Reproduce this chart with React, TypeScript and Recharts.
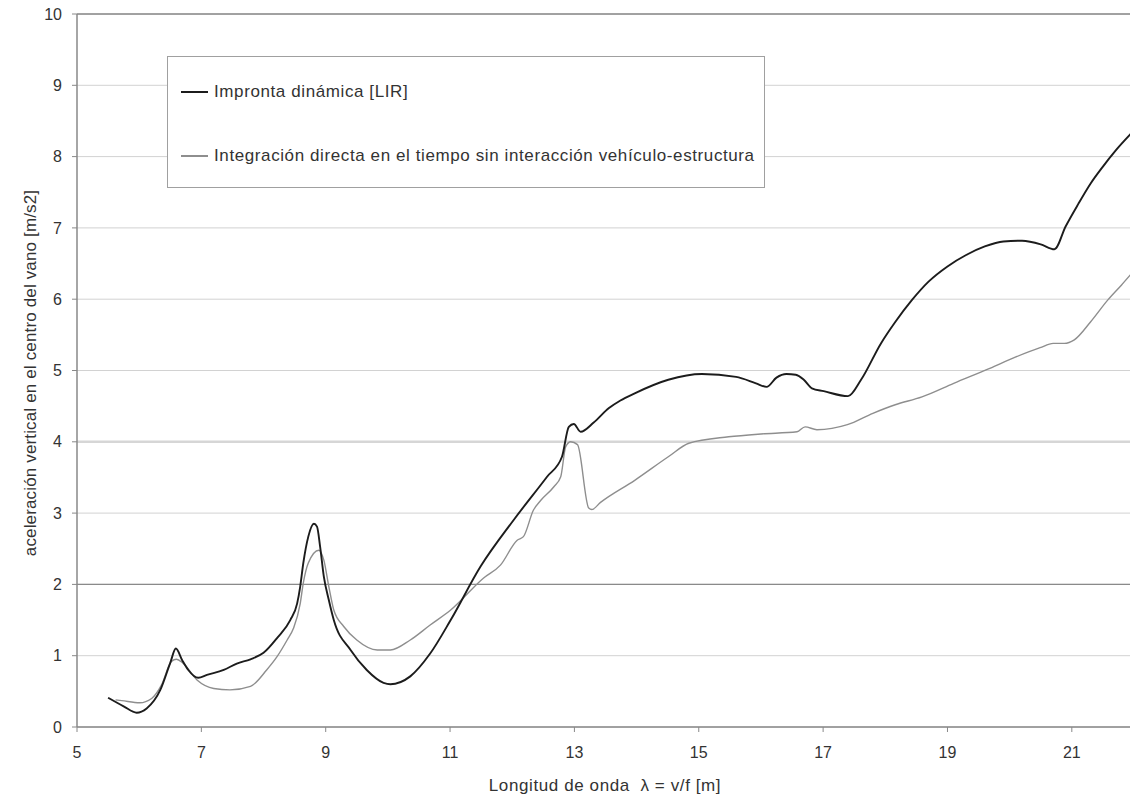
import React from 'react';
import { LineChart, Line, XAxis, YAxis, CartesianGrid, ReferenceLine, Legend } from 'recharts';

const FONT = '"Liberation Sans", Arial, sans-serif';

// Impronta dinámica [LIR]
const lirX = [
  5.5, 5.75, 5.96, 6.12, 6.34, 6.5, 6.59, 6.69, 6.79, 6.95, 7.09, 7.36, 7.57, 7.79, 8.0, 8.22, 8.43,
  8.54, 8.59, 8.64, 8.72, 8.81, 8.86, 8.91, 8.97, 9.05, 9.13, 9.4, 9.66, 9.93, 10.04, 10.36, 10.68,
  11.01, 11.49, 12.02, 12.56, 12.8, 12.91, 12.99, 13.1, 13.31, 13.55, 13.74, 13.97, 14.51, 15.05,
  15.6, 15.92, 16.09, 16.25, 16.41, 16.56, 16.69, 16.82, 17.01, 17.4, 17.61, 17.93, 18.16, 18.43,
  18.7, 19.0, 19.3, 19.6, 19.9, 20.2, 20.5, 20.72, 20.9, 21.1, 21.3, 21.5, 21.7, 21.96,
];
const lirY = [
  0.41, 0.29, 0.2, 0.26, 0.52, 0.9, 1.1, 0.94, 0.8, 0.69, 0.73, 0.8, 0.89, 0.95, 1.04, 1.25, 1.5,
  1.73, 1.97, 2.3, 2.67, 2.85, 2.81, 2.53, 2.11, 1.78, 1.5, 1.08, 0.8, 0.62, 0.6, 0.71, 1.03,
  1.5, 2.25, 2.9, 3.51, 3.79, 4.21, 4.25, 4.14, 4.27, 4.47, 4.58, 4.68, 4.87, 4.95,
  4.91, 4.82, 4.77, 4.9, 4.95, 4.94, 4.87, 4.75, 4.71, 4.64, 4.87, 5.38, 5.68, 5.99,
  6.25, 6.46, 6.62, 6.74, 6.81, 6.82, 6.77, 6.7, 7.02, 7.33, 7.62, 7.86, 8.08, 8.33,
];

// Integración directa en el tiempo sin interacción vehículo-estructura
const directX = [
  5.62, 5.72, 6.01, 6.2, 6.36, 6.52, 6.6, 6.7, 6.93, 7.2, 7.46, 7.79, 8.05, 8.22, 8.38, 8.48, 8.59,
  8.64, 8.72, 8.89, 8.97, 9.05, 9.13, 9.29, 9.5, 9.83, 10.04, 10.36, 10.68, 11.01, 11.54, 11.81,
  12.08, 12.18, 12.34, 12.46, 12.67, 12.78, 12.86, 12.94, 13.05, 13.23, 13.28, 13.42, 13.97, 14.51,
  14.84, 15.48, 16.0, 16.58, 16.71, 16.9, 17.39, 17.8, 18.16, 18.59, 19.1, 19.68, 20.1, 20.49,
  20.7, 20.88, 21.04, 21.3, 21.58, 21.8, 21.96,
];
const directY = [
  0.38, 0.37, 0.34, 0.4, 0.59, 0.92, 0.95, 0.9, 0.66, 0.54, 0.52, 0.57, 0.8, 0.99, 1.22, 1.38, 1.73,
  2.02, 2.3, 2.48, 2.34, 1.97, 1.64, 1.41, 1.22, 1.08, 1.08, 1.22, 1.43, 1.64, 2.09, 2.27,
  2.62, 2.67, 3.04, 3.18, 3.37, 3.51, 3.93, 4.0, 3.96, 3.07, 3.05, 3.15, 3.46, 3.79,
  3.98, 4.07, 4.11, 4.14, 4.21, 4.17, 4.24, 4.4, 4.52, 4.63, 4.82, 5.03, 5.19, 5.32,
  5.38, 5.38, 5.43, 5.68, 5.99, 6.2, 6.36,
];

const xTicks = [5, 7, 9, 11, 13, 15, 17, 19, 21];
const yTicks = [0, 1, 2, 3, 4, 5, 6, 7, 8, 9, 10];
const seriesNames = [
  'Impronta dinámica [LIR]',
  'Integración directa en el tiempo sin interacción vehículo-estructura',
];
const seriesColors = ['#1c1c1c', '#8e8e8e'];
const xTitle = 'Longitud de onda\u00a0 λ = v/f [m]';
const yTitle = 'aceleración vertical en el centro del vano [m/s2]';

const lirData = lirX.map((x, i) => ({ x, v: lirY[i] }));
const directData = directX.map((x, i) => ({ x, v: directY[i] }));

const LegendBox = () => (
  <div
    style={{
      width: '100%',
      height: '100%',
      boxSizing: 'border-box',
      border: '1px solid #a0a0a0',
      background: '#fff',
      position: 'relative',
      fontFamily: FONT,
      fontSize: 17,
      letterSpacing: 0.6,
      color: '#333',
    }}
  >
    {seriesNames.map((name, i) => (
      <div
        key={name}
        style={{ position: 'absolute', left: 13, top: i === 0 ? 24 : 88, height: 22, display: 'flex', alignItems: 'center' }}
      >
        <span style={{ display: 'inline-block', width: 27, height: 0, borderTop: `2px solid ${seriesColors[i]}`, marginRight: 6 }} />
        <span style={{ whiteSpace: 'nowrap' }}>{name}</span>
      </div>
    ))}
  </div>
);

export default function App() {
  return (
    <div style={{ position: 'absolute', left: 0, top: 0, width: 1130, height: 796, overflow: 'hidden', background: '#fff' }}>
      <LineChart width={1140} height={796} margin={{ top: 14, right: 6, bottom: 9, left: 0 }}>
        <CartesianGrid horizontal vertical={false} stroke="#d2d2d2" />
        <ReferenceLine y={4} stroke="#d6d6d6" strokeWidth={2.5} />
        <ReferenceLine y={2} stroke="#8a8a8a" strokeWidth={1.3} />
        <ReferenceLine y={10} stroke="#8a8a8a" strokeWidth={1.5} />
        <XAxis
          type="number"
          dataKey="x"
          domain={[5, 22]}
          ticks={xTicks}
          interval={0}
          height={60}
          tickSize={5}
          tickMargin={15}
          allowDataOverflow
          axisLine={{ stroke: '#888', strokeWidth: 1.5 }}
          tickLine={{ stroke: '#888' }}
          tick={{ fill: '#333', fontSize: 16, fontFamily: FONT }}
          label={{
            content: () => (
              <text x={605} y={791} textAnchor="middle" fill="#333" fontSize={17} letterSpacing={0.6} fontFamily={FONT}>
                {xTitle}
              </text>
            ),
          }}
        />
        <YAxis
          type="number"
          domain={[0, 10]}
          ticks={yTicks}
          interval={0}
          width={77}
          tickSize={5}
          tickMargin={10}
          axisLine={{ stroke: '#888', strokeWidth: 1.5 }}
          tickLine={{ stroke: '#888' }}
          tick={{ fill: '#333', fontSize: 16, fontFamily: FONT }}
          label={{
            content: () => (
              <text
                x={36}
                y={373}
                transform="rotate(-90, 36, 373)"
                textAnchor="middle"
                fill="#333"
                fontSize={17}
                letterSpacing={0.15}
                fontFamily={FONT}
              >
                {yTitle}
              </text>
            ),
          }}
        />
        <Legend
          layout="vertical"
          align="center"
          verticalAlign="middle"
          content={() => <LegendBox />}
          wrapperStyle={{ left: 167, top: 56, width: 598, height: 132 }}
        />
        <Line
          data={directData}
          dataKey="v"
          name={seriesNames[1]}
          type="monotone"
          stroke={seriesColors[1]}
          strokeWidth={1.4}
          dot={false}
          activeDot={false}
          isAnimationActive={false}
        />
        <Line
          data={lirData}
          dataKey="v"
          name={seriesNames[0]}
          type="monotone"
          stroke={seriesColors[0]}
          strokeWidth={1.9}
          dot={false}
          activeDot={false}
          isAnimationActive={false}
        />
      </LineChart>
    </div>
  );
}
